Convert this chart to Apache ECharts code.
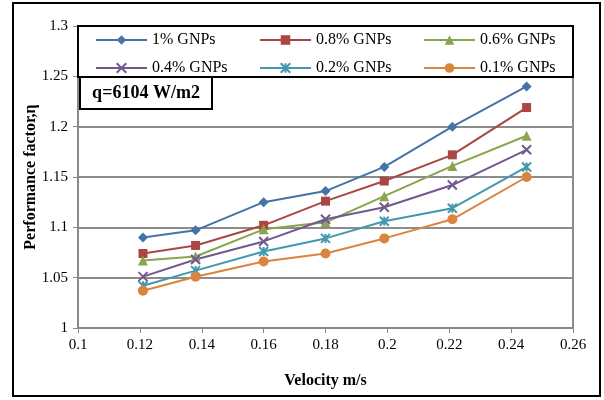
<!DOCTYPE html>
<html>
<head>
<meta charset="utf-8">
<script src="https://cdn.jsdelivr.net/npm/echarts@6/dist/echarts.min.js"></script>
<style>
  html, body { margin: 0; padding: 0; background: #fff; }
  #display { width: 604px; height: 400px; }
</style>
</head>
<body>
<div id="display"></div>
<script>
// velocity (m/s) for each measured point
var velocity = [0.121, 0.138, 0.16, 0.18, 0.199, 0.221, 0.245];

var names = ['1% GNPs', '0.8% GNPs', '0.6% GNPs', '0.4% GNPs', '0.2% GNPs', '0.1% GNPs'];

// performance factor per concentration
var gnp_1 = [1.090, 1.097, 1.125, 1.136, 1.160, 1.200, 1.240];
var gnp_08 = [1.074, 1.082, 1.102, 1.126, 1.146, 1.172, 1.219];
var gnp_06 = [1.067, 1.071, 1.098, 1.105, 1.131, 1.161, 1.191];
var gnp_04 = [1.051, 1.068, 1.086, 1.108, 1.120, 1.142, 1.177];
var gnp_02 = [1.042, 1.057, 1.076, 1.089, 1.106, 1.119, 1.160];
var gnp_01 = [1.037, 1.051, 1.066, 1.074, 1.089, 1.108, 1.150];

var colors = ['#4572A7', '#AA4643', '#89A54E', '#71588F', '#4198AF', '#DB843D'];
var symbols = [
    'diamond',
    'rect',
    'triangle',
    'path://M0,0L10,10M10,0L0,10',
    'path://M5,0L5,10M0,0L10,10M10,0L0,10',
    'circle'
];
var sizes = [10, 9, 10, 9, 9, 10];

var font = 'Liberation Serif';

function makeSeries(i, vals) {
    var pts = [];
    for (var k = 0; k < velocity.length; k++) {
        pts.push([velocity[k], vals[k]]);
    }
    var s = {
        name: names[i],
        type: 'line',
        data: pts,
        symbol: symbols[i],
        symbolSize: sizes[i],
        showSymbol: true,
        lineStyle: {color: colors[i], width: 2},
        itemStyle: {color: colors[i]}
    };
    if (i == 3 || i == 4) {
        s.itemStyle = {color: colors[i], borderColor: colors[i], borderWidth: 2};
    }
    return s;
}

var allVals = [gnp_1, gnp_08, gnp_06, gnp_04, gnp_02, gnp_01];
var series = [];
for (var i = 0; i < allVals.length; i++) {
    series.push(makeSeries(i, allVals[i]));
}

function legendCol(left, items) {
    return {
        orient: 'vertical',
        left: left,
        top: 32,
        padding: 0,
        itemWidth: 51,
        itemHeight: 12,
        itemGap: 12,
        data: items,
        textStyle: {fontFamily: font, fontSize: 16, color: '#000'}
    };
}

var option = {
    animation: false,
    backgroundColor: '#fff',
    grid: {
        left: 78, right: 31, top: 26, bottom: 72,
        show: true, borderColor: '#666', borderWidth: 1.5
    },
    legend: [
        legendCol(95, [names[0], names[3]]),
        legendCol(259, [names[1], names[4]]),
        legendCol(423, [names[2], names[5]])
    ],
    xAxis: {
        type: 'value',
        min: 0.1, max: 0.26, interval: 0.02,
        name: 'Velocity m/s',
        nameLocation: 'middle',
        nameGap: 45,
        nameMoveOverlap: false,
        nameTextStyle: {fontFamily: font, fontSize: 16, fontWeight: 'bold', color: '#000'},
        axisLine: {show: true, lineStyle: {color: '#888', width: 1.5}},
        axisTick: {show: true, length: 5, lineStyle: {color: '#888'}},
        axisLabel: {fontFamily: font, fontSize: 15, color: '#000', margin: 10},
        splitLine: {show: false}
    },
    yAxis: {
        type: 'value',
        min: 1, max: 1.3, interval: 0.05,
        name: 'Performance factor,η',
        nameLocation: 'middle',
        nameGap: 39,
        nameMoveOverlap: false,
        nameTextStyle: {fontFamily: font, fontSize: 16, fontWeight: 'bold', color: '#000'},
        axisLine: {show: true, lineStyle: {color: '#888', width: 1.5}},
        axisTick: {show: true, length: 5, lineStyle: {color: '#888'}},
        axisLabel: {fontFamily: font, fontSize: 15, color: '#000', margin: 10},
        splitLine: {show: true, lineStyle: {color: '#8c8c8c', width: 2}}
    },
    graphic: [
        {
            type: 'rect', z: 0,
            shape: {x: 13, y: 3, width: 587, height: 393},
            style: {fill: 'none', stroke: '#000', lineWidth: 2}
        },
        {
            type: 'rect', z: 3,
            shape: {x: 78, y: 26, width: 495, height: 51},
            style: {fill: '#fff', stroke: '#000', lineWidth: 2}
        },
        {
            type: 'rect', z: 3,
            shape: {x: 80, y: 77, width: 132, height: 32},
            style: {fill: '#fff', stroke: '#000', lineWidth: 2}
        },
        {
            type: 'text', z: 4,
            x: 146, y: 93,
            style: {
                text: 'q=6104 W/m2',
                fontFamily: font, fontSize: 18, fontWeight: 'bold',
                fill: '#000', align: 'center', verticalAlign: 'middle'
            }
        }
    ],
    series: series
};

var myChart = echarts.init(document.getElementById('display'));
myChart.setOption(option);
</script>
</body>
</html>
